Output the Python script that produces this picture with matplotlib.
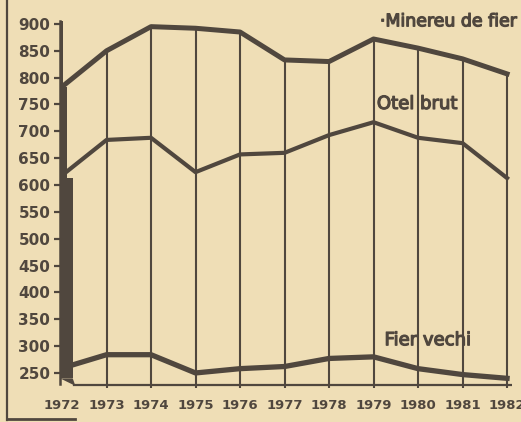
import matplotlib.pyplot as plt
import matplotlib.patheffects as pe
from matplotlib.lines import Line2D

# ------------------------------------------------------------------
# Data (thousand tonnes)
# ------------------------------------------------------------------
years = [1972, 1973, 1974, 1975, 1976, 1977, 1978, 1979, 1980, 1981, 1982]
minereu = [783, 850, 895, 892, 885, 833, 830, 872, 855, 835, 807]
otel = [618, 684, 688, 624, 657, 660, 693, 717, 688, 678, 613]
fier_vechi = [259, 284, 284, 250, 258, 262, 277, 280, 258, 247, 240]

y_ticks = [250, 300, 350, 400, 450, 500, 550, 600, 650, 700, 750, 800, 850, 900]

PAPER = '#efdeb6'
INK = '#50473e'
TICKFONT = dict(family='DejaVu Sans', weight='bold', color=INK)
LABELFONT = dict(family='DejaVu Sans', weight='normal', color=INK,
                 path_effects=[pe.withStroke(linewidth=0.9, foreground=INK)])

fig = plt.figure(figsize=(5.21, 4.22), dpi=100, facecolor=PAPER)
ax = fig.add_axes([0.1152, 0.0806, 0.8676, 0.8957])
ax.set_facecolor(PAPER)

ax.set_xlim(1971.955, 1982.112)
ax.set_ylim(222, 926)
base = 224

# vertical drop lines from the top series to the floor
for yr, top in zip(years[1:], minereu[1:]):
    ax.plot([yr, yr], [base, top], color=INK, lw=1.5, zorder=2)

# thick 3D left wall at 1972
ax.fill_betweenx([minereu[0], 905], 1971.955, 1972.02, color=INK, lw=0, zorder=3)
ax.fill_betweenx([otel[0] - 5, minereu[0]], 1971.955, 1972.12, color=INK, lw=0, zorder=3)
ax.fill_betweenx([240, otel[0] - 5], 1971.955, 1972.24, color=INK, lw=0, zorder=3)
ax.fill([1971.955, 1972.24, 1972.3, 1972.3], [240, 240, 226, 226], color=INK, lw=0, zorder=3)
ax.plot([1972.28, 1982.1], [227, 227], color=INK, lw=1.6, zorder=3)

ax.plot(years, minereu, color=INK, lw=3.6, solid_joinstyle='round', zorder=4)
ax.plot(years, otel, color=INK, lw=3.0, solid_joinstyle='round', zorder=4)
ax.plot(years, fier_vechi, color=INK, lw=3.8, solid_joinstyle='round', zorder=4)

for s in ['top', 'right', 'bottom']:
    ax.spines[s].set_visible(False)
ax.spines['left'].set_color(INK)
ax.spines['left'].set_linewidth(1.8)
ax.spines['left'].set_bounds(230, 905)

ax.set_yticks(y_ticks)
ax.set_yticklabels([str(v) for v in y_ticks], **TICKFONT, fontsize=11)
ax.tick_params(axis='y', length=4, width=1.6, color=INK, pad=3)

ax.set_xticks(years)
ax.set_xticklabels([str(y) for y in years], **TICKFONT, fontsize=9.5)
ax.tick_params(axis='x', length=0, pad=8)

ax.text(1982.25, 905, '·Minereu de fier', ha='right', va='center', fontsize=12.5, **LABELFONT)
ax.text(1979.98, 751, 'Otel brut', ha='center', va='center', fontsize=13, **LABELFONT)
ax.text(1980.22, 311, 'Fier vechi', ha='center', va='center', fontsize=13, **LABELFONT)

# outer frame of the printed figure
fig.add_artist(Line2D([7 / 521, 7 / 521], [0.005, 1.0], color=INK, lw=1.6))
fig.add_artist(Line2D([7 / 521, 75 / 521], [0.007, 0.007], color=INK, lw=2.0))

fig.savefig('out.png', dpi=100, facecolor=PAPER)
